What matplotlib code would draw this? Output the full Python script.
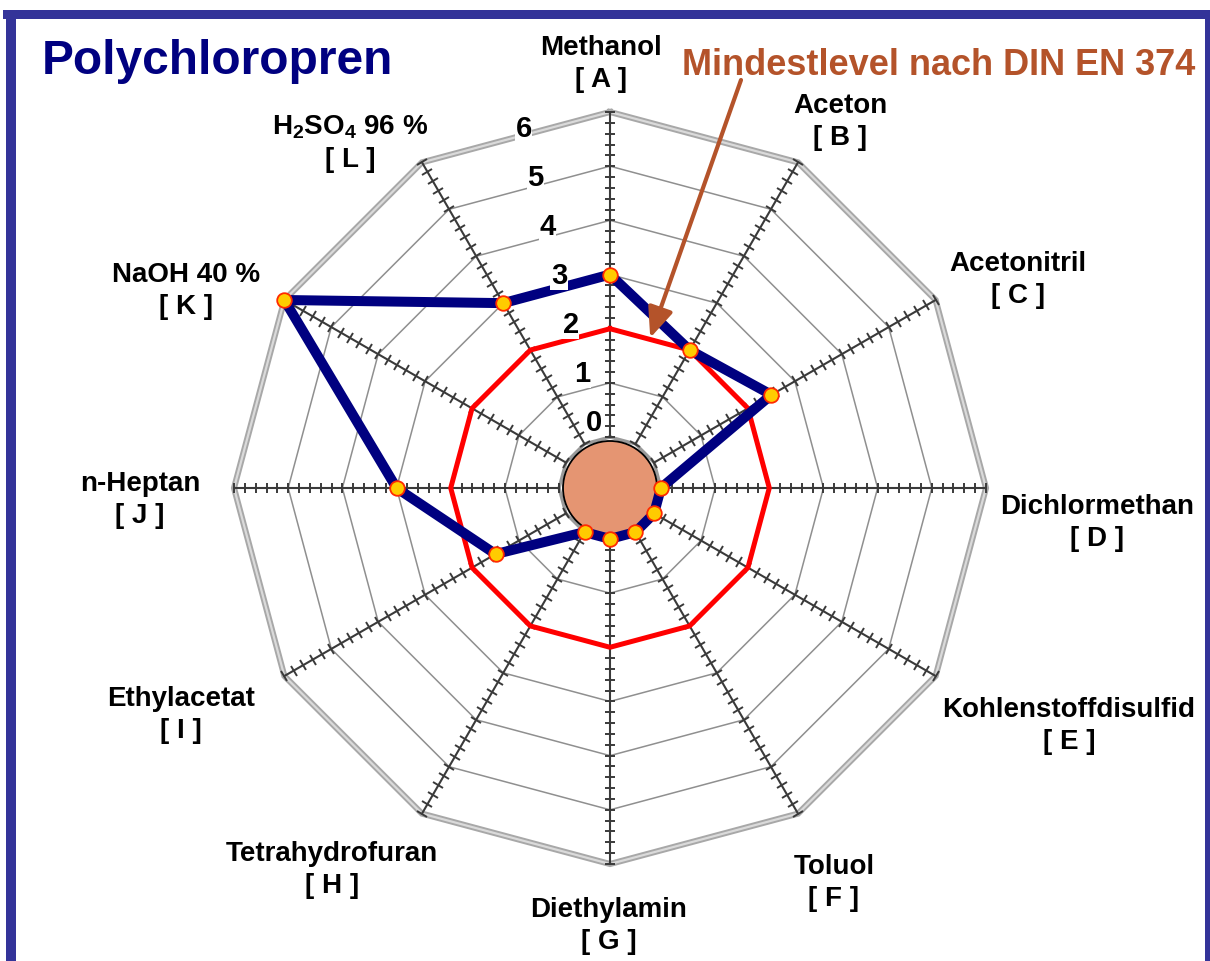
import numpy as np
import matplotlib.pyplot as plt
from matplotlib.markers import MarkerStyle
from matplotlib.transforms import Affine2D
from matplotlib.patches import Circle, Rectangle

plt.rcParams['font.family'] = ['Liberation Sans', 'DejaVu Sans']
plt.rcParams['font.weight'] = 'bold'
plt.rcParams['mathtext.fontset'] = 'custom'
plt.rcParams['mathtext.rm'] = 'Liberation Sans:bold'
plt.rcParams['mathtext.it'] = 'Liberation Sans:bold'
plt.rcParams['mathtext.bf'] = 'Liberation Sans:bold'

# permeation levels per test chemical (0..6)
chemicals = ['Methanol', 'Aceton', 'Acetonitril', 'Dichlormethan',
             'Kohlenstoffdisulfid', 'Toluol', 'Diethylamin', 'Tetrahydrofuran',
             'Ethylacetat', 'n-Heptan', 'NaOH 40 %', r'H$_2$SO$_4$ 96 %']
codes = ['A', 'B', 'C', 'D', 'E', 'F', 'G', 'H', 'I', 'J', 'K', 'L']
levels = [3, 2, 2.5, 0, 0, 0, 0, 0, 1.5, 3, 6, 3]
din_min = [2, 2, 2, 2, 2, 2, 2, 2, 2, 2, 2, 2]
ring_values = [0, 1, 2, 3, 4, 5, 6]

# label block centres in pixels
label_px = [(601, 64), (840, 122), (1018, 280), (1097, 523), (1069, 726),
            (834, 883), (609, 926), (332, 870), (181, 715), (140, 500),
            (186, 291), (350, 143)]

W, H = 1210, 961
NAVY = '#000080'
BROWN = '#B4532A'
GRID = '#8f8f8f'
SPOKE = '#3a3a3a'

fig = plt.figure(figsize=(W / 100, H / 100), dpi=100)

def fpos(x, y):
    return x / W, 1 - y / H

# chart centre and outer radius in pixels
cx, cy, R = 610, 488, 376
ax = fig.add_axes([(cx - R) / W, (H - cy - R) / H, 2 * R / W, 2 * R / H],
                  projection='polar')
ax.set_theta_zero_location('N')
ax.set_theta_direction(-1)
ax.set_ylim(0, 6)
ax.set_rorigin(-0.94)
ax.set_axis_off()

n = len(chemicals)
theta = np.deg2rad(np.arange(n) * 360 / n)
tc = np.append(theta, theta[0])

# web rings
ax.plot(tc, [0] * (n + 1), color='#9a9a9a', lw=2.4, zorder=1, clip_on=False)
for lv in ring_values[1:-1]:
    ax.plot(tc, [lv] * (n + 1), color=GRID, lw=1.1, zorder=1)
ax.plot(tc, [6] * (n + 1), color='#a8a8a8', lw=4.4, zorder=1, clip_on=False,
        solid_joinstyle='miter')
ax.plot(tc, [6] * (n + 1), color='#dadada', lw=1.6, zorder=1, clip_on=False,
        solid_joinstyle='miter')

# spokes with tick marks every 0.2
tick_r = np.arange(0, 6.001, 0.2)
for t in theta:
    ax.plot([t, t], [0, 6], color=SPOKE, lw=1.5, zorder=2, clip_on=False)
    mk = MarkerStyle('_', transform=Affine2D().rotate_deg(-np.rad2deg(t)))
    ax.plot([t] * len(tick_r), tick_r, ls='none', marker=mk, ms=7.5, mew=1.4,
            color=SPOKE, zorder=2, clip_on=False)

# centre disc
ax.add_patch(Circle((0.5, 0.5), 47 / (2 * R), transform=ax.transAxes,
                    fc='#E59572', ec='black', lw=1.3, zorder=2.5,
                    clip_on=False))

# minimum level and material curve
ax.plot(tc, din_min + din_min[:1], color='#ff0000', lw=3.6, zorder=4)
ax.plot(tc, levels + levels[:1], color=NAVY, lw=7.2, zorder=5,
        solid_joinstyle='round', clip_on=False)
ax.plot(theta, levels, ls='none', marker='o', ms=10.5, mfc='#FFCC00',
        mec='#FF2a00', mew=1.3, zorder=6, clip_on=False)

# radial scale labels
for v in ring_values:
    ax.text(np.deg2rad(-13.5), 0.3 + 0.93 * v, str(v), ha='center', va='center',
            fontsize=21, fontweight='bold', zorder=7,
            bbox=dict(fc='white', ec='none', pad=0.5))

# category labels
for name, code, (x, y) in zip(chemicals, codes, label_px):
    fig.text(*fpos(x, y), f'{name}\n[ {code} ]', ha='center', va='center',
             fontsize=20, fontweight='bold', linespacing=1.3)

fig.text(*fpos(42, 74), 'Polychloropren', fontsize=34.5, fontweight='bold',
         color=NAVY, ha='left', va='baseline')
fig.text(*fpos(939, 75), 'Mindestlevel nach DIN EN 374', fontsize=26,
         fontweight='bold', color=BROWN, ha='center', va='baseline')

ax.annotate('', xy=(np.deg2rad(15), 1.93), xycoords='data',
            xytext=fpos(741, 80), textcoords='figure fraction',
            arrowprops=dict(arrowstyle='-|>,head_length=1.3,head_width=0.55',
                            color=BROWN, lw=3, mutation_scale=14,
                            shrinkA=0, shrinkB=0),
            annotation_clip=False, zorder=8)

# frame
for x0, y0, x1, y1 in [(3, 10, 1210, 19), (6, 10, 16, 961), (1205, 10, 1210, 961)]:
    fig.patches.append(Rectangle(fpos(x0, y1), (x1 - x0) / W, (y1 - y0) / H,
                                 transform=fig.transFigure, fc='#333399',
                                 ec='none'))

fig.savefig('out.png', dpi=100)
